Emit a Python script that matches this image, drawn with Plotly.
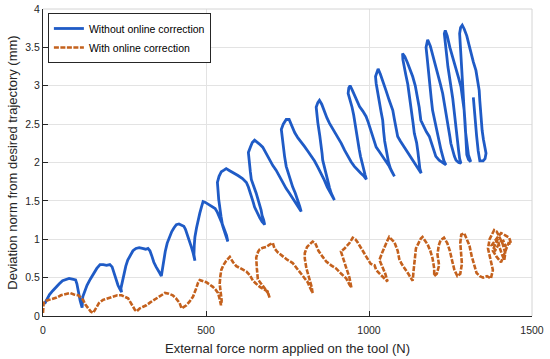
import plotly.graph_objects as go

# ---- Data ----
blue_x = [5, 12, 20, 30, 40, 50, 60, 70, 80, 90, 100, 104, 107, 110, 114, 118, 120,
          122, 128, 135, 145, 155, 165, 175, 185, 195, 205, 212, 218, 224, 230, 236, 241,
          239, 243, 248, 254, 260, 268, 276, 285, 295, 305, 315, 322, 328, 334, 340, 347, 352, 358, 363,
          366, 370, 375, 381, 388, 395, 402, 409, 417, 425, 432, 437, 443, 450, 455, 460, 464, 466,
          463, 464, 466, 471, 476, 481, 486, 491, 498, 505, 512, 520, 528, 535, 542, 548, 553, 558, 563, 567,
          563, 556, 550, 546, 542, 539, 537, 535, 540, 547, 555, 562,
          570, 583, 598, 612, 624, 630, 635, 640, 645, 649, 655, 660, 665, 672, 680,
          677, 672, 669, 664, 659, 654, 648, 643, 639, 636, 634, 632, 630, 636, 642, 649,
          656, 664, 674, 684, 695, 705, 715, 726, 736, 746, 756, 767, 777, 785, 792,
          788, 782, 774, 766, 758, 752, 746, 741, 736, 733, 731, 737, 746,
          755, 763, 772, 782, 792, 802, 812, 822, 833, 843, 853, 863, 872, 880, 887, 894,
          890, 884, 879, 874, 869, 864, 858, 856, 854, 849, 843, 840, 838, 843, 848,
          855, 863, 871, 879, 889, 899, 907, 915, 925, 935, 945, 955, 965, 975, 985, 992,
          988, 983, 978, 974, 970, 966, 962, 958, 953, 948, 942, 936, 938, 942,
          948, 955, 962, 971, 981, 991, 998, 1006, 1014, 1022, 1032, 1042, 1052, 1062, 1070, 1078,
          1072, 1066, 1060, 1056, 1052, 1048, 1045, 1042, 1037, 1032, 1027, 1022, 1020, 1024, 1028,
          1035, 1042, 1052, 1062, 1068, 1073, 1078, 1083, 1088, 1096, 1105, 1114, 1124, 1134, 1144, 1152, 1160,
          1156, 1154, 1150, 1146, 1139, 1135, 1131, 1128, 1124, 1119, 1113, 1108, 1104, 1103,
          1110, 1118, 1126, 1134, 1142, 1149, 1154, 1159, 1167, 1176, 1185, 1192, 1199, 1205, 1215, 1226, 1236,
          1230, 1225, 1221, 1214, 1207, 1201, 1195, 1191, 1188, 1185, 1181, 1178, 1175, 1177, 1180,
          1188, 1196, 1205, 1212, 1219, 1226, 1231, 1236, 1241, 1245, 1248, 1251, 1256, 1262, 1267, 1275, 1282,
          1278, 1275, 1272, 1268, 1264, 1261, 1257, 1251, 1246, 1242, 1239, 1236, 1233, 1231, 1234,
          1240, 1248, 1255, 1261, 1268, 1275, 1282, 1287, 1292, 1295, 1297, 1298, 1300, 1305, 1312,
          1305, 1300, 1296, 1293, 1290, 1287, 1284, 1281, 1279, 1278, 1281, 1286,
          1292, 1300, 1307, 1313, 1320, 1328, 1333, 1338, 1340, 1342, 1343, 1347, 1351, 1355, 1359, 1356, 1350, 1340,
          1335, 1330, 1326, 1320]
blue_y = [0.16, 0.22, 0.28, 0.33, 0.38, 0.42, 0.46, 0.48, 0.49, 0.48, 0.47, 0.42, 0.34, 0.27, 0.20, 0.14, 0.11,
          0.25, 0.33, 0.40, 0.48, 0.56, 0.62, 0.67, 0.67, 0.66, 0.67, 0.64, 0.55, 0.47, 0.40, 0.35, 0.31,
          0.36, 0.45, 0.55, 0.65, 0.73, 0.80, 0.85, 0.88, 0.89, 0.88, 0.87, 0.88, 0.85, 0.78, 0.70, 0.64, 0.61, 0.56, 0.52,
          0.60, 0.72, 0.84, 0.95, 1.03, 1.10, 1.15, 1.19, 1.20, 1.18, 1.17, 1.13, 1.06, 0.98, 0.90, 0.83, 0.76, 0.72,
          0.80, 0.92, 1.03, 1.15, 1.26, 1.34, 1.42, 1.49, 1.48, 1.46, 1.45, 1.42, 1.40, 1.35, 1.29, 1.22, 1.15, 1.08, 1.02, 0.97,
          1.05, 1.12, 1.20, 1.30, 1.40, 1.52, 1.63, 1.74, 1.82, 1.88, 1.90, 1.92,
          1.90, 1.87, 1.83, 1.79, 1.74, 1.68, 1.62, 1.55, 1.48, 1.42, 1.36, 1.31, 1.28, 1.23, 1.19,
          1.25, 1.31, 1.38, 1.46, 1.53, 1.60, 1.67, 1.73, 1.78, 1.88, 1.97, 2.05, 2.13, 2.20, 2.26, 2.29,
          2.27, 2.24, 2.20, 2.12, 2.03, 1.96, 1.90, 1.81, 1.73, 1.66, 1.60, 1.53, 1.47, 1.41, 1.36,
          1.42, 1.51, 1.60, 1.68, 1.78, 1.86, 1.95, 2.08, 2.24, 2.34, 2.43, 2.50, 2.56,
          2.56, 2.48, 2.39, 2.32, 2.27, 2.21, 2.15, 2.09, 2.02, 1.94, 1.86, 1.77, 1.68, 1.62, 1.56, 1.51,
          1.55, 1.60, 1.67, 1.75, 1.82, 1.92, 2.03, 2.12, 2.20, 2.35, 2.52, 2.62, 2.72, 2.78, 2.81,
          2.76, 2.66, 2.58, 2.51, 2.44, 2.38, 2.31, 2.25, 2.16, 2.08, 2.01, 1.95, 1.90, 1.86, 1.82, 1.78,
          1.84, 1.92, 2.00, 2.08, 2.17, 2.28, 2.40, 2.52, 2.62, 2.72, 2.82, 2.90, 2.97, 3.00,
          2.95, 2.88, 2.80, 2.73, 2.67, 2.60, 2.52, 2.42, 2.31, 2.20, 2.14, 2.08, 2.02, 1.95, 1.88, 1.82,
          1.86, 1.92, 2.00, 2.08, 2.16, 2.28, 2.40, 2.55, 2.66, 2.77, 2.90, 3.03, 3.12, 3.19, 3.22,
          3.15, 3.07, 2.94, 2.81, 2.74, 2.68, 2.56, 2.45, 2.34, 2.28, 2.22, 2.16, 2.09, 2.02, 1.95, 1.90, 1.86,
          1.92, 2.03, 2.14, 2.26, 2.38, 2.52, 2.66, 2.78, 2.90, 3.02, 3.14, 3.25, 3.34, 3.42,
          3.38, 3.30, 3.21, 3.12, 3.00, 2.86, 2.72, 2.55, 2.47, 2.40, 2.34, 2.24, 2.15, 2.08, 2.03, 2.00, 1.97,
          2.02, 2.09, 2.16, 2.30, 2.44, 2.56, 2.68, 2.83, 2.98, 3.12, 3.25, 3.38, 3.50, 3.57, 3.60,
          3.52, 3.40, 3.25, 3.13, 3.02, 2.90, 2.78, 2.66, 2.55, 2.44, 2.34, 2.25, 2.16, 2.08, 2.03, 2.00, 1.99,
          2.05, 2.15, 2.25, 2.40, 2.55, 2.68, 2.83, 2.98, 3.12, 3.25, 3.37, 3.47, 3.58, 3.68, 3.72,
          3.65, 3.50, 3.40, 3.33, 3.20, 3.10, 2.99, 2.84, 2.68, 2.50, 2.34, 2.20, 2.10, 2.04, 2.01,
          2.10, 2.25, 2.40, 2.60, 2.80, 3.00, 3.20, 3.40, 3.55, 3.68, 3.76, 3.79,
          3.74, 3.65, 3.53, 3.42, 3.31, 3.20, 3.07, 2.94, 2.80, 2.66, 2.55, 2.42, 2.30, 2.20, 2.12, 2.05, 2.02, 2.02,
          2.15, 2.35, 2.60, 2.85]

orange_x = [0, 2, 10, 20, 30, 42, 55, 70, 83, 95, 108, 116, 123, 130, 138, 146, 154, 160, 164, 172, 184, 198,
            215, 228, 241, 252, 261, 268, 276, 282, 287, 292, 297, 307, 317, 330, 348, 360, 374, 386, 398, 408,
            419, 425, 432, 440, 450, 460, 470, 476, 481, 491, 501, 511, 521, 530, 537, 542, 546, 548, 545, 542,
            544, 547, 553, 562, 573, 583, 593, 608, 624, 635, 644, 654, 665, 677, 689, 695, 690, 680, 670, 659,
            656, 654, 660, 665, 675, 685, 695, 705, 710, 720, 735, 750, 766, 779, 792, 802, 812, 818, 823, 827,
            824, 815, 808, 803, 803, 810, 818, 827, 835, 845, 858, 869, 884, 899, 915, 930, 940, 946, 940, 930,
            920, 914, 925, 940, 950, 958, 965, 978, 991, 1005, 1017, 1022, 1035, 1047, 1057, 1050, 1040, 1032,
            1040, 1047, 1055, 1062, 1070, 1078, 1088, 1093, 1100, 1114, 1122, 1129, 1134, 1137, 1141, 1144, 1152,
            1159, 1164, 1172, 1180, 1188, 1195, 1200, 1200, 1208, 1215, 1210, 1214, 1220, 1230, 1240, 1248, 1255,
            1262, 1271, 1280, 1285, 1282, 1280, 1283, 1292, 1300, 1308, 1315, 1322, 1330, 1340, 1350, 1362, 1374,
            1380, 1372, 1365, 1370, 1378, 1384, 1392, 1400, 1410, 1418, 1415, 1408, 1400, 1395, 1388, 1380, 1390,
            1405, 1420, 1428, 1436, 1430, 1418, 1405, 1395, 1385, 1376, 1388, 1400, 1412, 1420]
orange_y = [0.04, 0.17, 0.20, 0.21, 0.23, 0.24, 0.27, 0.29, 0.30, 0.28, 0.27, 0.24, 0.21, 0.15, 0.10, 0.06, 0.04,
            0.08, 0.12, 0.17, 0.21, 0.23, 0.25, 0.27, 0.27, 0.25, 0.23, 0.18, 0.12, 0.08, 0.06, 0.08, 0.10, 0.12,
            0.14, 0.18, 0.23, 0.26, 0.30, 0.29, 0.27, 0.23, 0.17, 0.10, 0.12, 0.14, 0.19, 0.25, 0.36, 0.44, 0.47,
            0.46, 0.44, 0.41, 0.38, 0.34, 0.30, 0.22, 0.14, 0.20, 0.30, 0.42, 0.52, 0.60, 0.66, 0.72, 0.77, 0.70,
            0.65, 0.62, 0.58, 0.53, 0.46, 0.42, 0.38, 0.35, 0.32, 0.24, 0.30, 0.36, 0.42, 0.48, 0.62, 0.76, 0.84,
            0.87, 0.89, 0.90, 0.93, 0.95, 0.88, 0.83, 0.78, 0.73, 0.69, 0.62, 0.56, 0.50, 0.44, 0.38, 0.33, 0.30,
            0.38, 0.50, 0.62, 0.75, 0.82, 0.90, 0.93, 0.97, 0.95, 0.85, 0.77, 0.71, 0.66, 0.62, 0.55, 0.49, 0.41,
            0.37, 0.50, 0.62, 0.75, 0.84, 0.88, 0.95, 1.02, 1.00, 0.96, 0.87, 0.77, 0.68, 0.66, 0.60, 0.54, 0.49,
            0.45, 0.55, 0.65, 0.73, 0.82, 0.90, 0.97, 1.03, 1.00, 0.96, 0.85, 0.74, 0.68, 0.60, 0.54, 0.49, 0.46,
            0.60, 0.78, 0.88, 0.95, 1.01, 1.03, 0.98, 0.93, 0.85, 0.75, 0.62, 0.52, 0.55, 0.66, 0.80, 0.92, 0.99,
            1.02, 0.95, 0.85, 0.72, 0.60, 0.52, 0.55, 0.68, 0.82, 0.95, 1.06, 1.08, 1.00, 0.92, 0.78, 0.66, 0.56,
            0.52, 0.50, 0.52, 0.49, 0.60, 0.75, 0.88, 1.00, 1.08, 1.12, 1.10, 1.02, 0.94, 0.82, 0.73, 0.80, 0.90,
            1.00, 0.95, 0.85, 0.78, 0.70, 0.85, 0.95, 0.94, 1.02, 1.05, 1.08, 1.03, 0.98, 0.92, 0.86, 0.95, 0.98,
            0.90]

x_ticks = [0, 500, 1000, 1500]
y_ticks = [0, 0.5, 1, 1.5, 2, 2.5, 3, 3.5, 4]
y_tick_labels = ["0", "0.5", "1", "1.5", "2", "2.5", "3", "3.5", "4"]

series_names = ["Without online correction", "With online correction"]

FONT = "Liberation Sans, Arial, sans-serif"
AX = "#262626"
GRID = "#e3e3e3"

fig = go.Figure()
fig.add_trace(go.Scatter(x=blue_x, y=blue_y, mode="lines", name=series_names[0],
                         line=dict(color="#1f5bc6", width=2.8)))
fig.add_trace(go.Scatter(x=orange_x, y=orange_y, mode="lines", name=series_names[1],
                         line=dict(color="#c4611d", width=2.6, dash="5px,1.5px")))

fig.update_layout(
    width=550, height=359,
    margin=dict(l=43, r=18, t=9, b=43, autoexpand=False),
    paper_bgcolor="white", plot_bgcolor="white",
    font=dict(family=FONT, color=AX, size=10.5),
    showlegend=True,
    legend=dict(x=0.01, y=0.987, xanchor="left", yanchor="top",
                bgcolor="white", bordercolor=AX, borderwidth=1,
                font=dict(size=10.5, color="black"), itemwidth=30,
                tracegroupgap=0),
    xaxis=dict(range=[0, 1500], tickvals=x_ticks, ticks="inside", ticklen=5,
               tickcolor=AX, showline=True, linecolor=AX, linewidth=1,
               showgrid=True, gridcolor=GRID, zeroline=False, automargin=False,
               tickfont=dict(size=10.5, color=AX), ticklabelstandoff=4,
               ticklabeloverflow="allow",
               title=dict(text="External force norm applied on the tool (N)",
                          font=dict(size=13, color=AX), standoff=9)),
    yaxis=dict(range=[0, 4], tickvals=y_ticks, ticktext=y_tick_labels,
               ticks="inside", ticklen=5, tickcolor=AX, showline=True,
               linecolor=AX, linewidth=1, showgrid=True, gridcolor=GRID,
               zeroline=False, automargin=False, tickfont=dict(size=10.5, color=AX),
               ticklabeloverflow="allow",
               title=dict(text="Deviation norm from desired trajectory (mm)",
                          font=dict(size=13, color=AX), standoff=4)),
    shapes=[
        dict(type="line", xref="paper", yref="paper", x0=0, x1=1, y0=1, y1=1,
             line=dict(color="#d4d4d4", width=1)),
        dict(type="line", xref="paper", yref="paper", x0=1, x1=1, y0=0, y1=1,
             line=dict(color="#d4d4d4", width=1)),
    ],
)

# remove the default 8px body margin of the page so the figure sits at (0, 0)
fig.write_html("out.html", config={"displayModeBar": False},
               post_script="document.body.style.margin='0';")
